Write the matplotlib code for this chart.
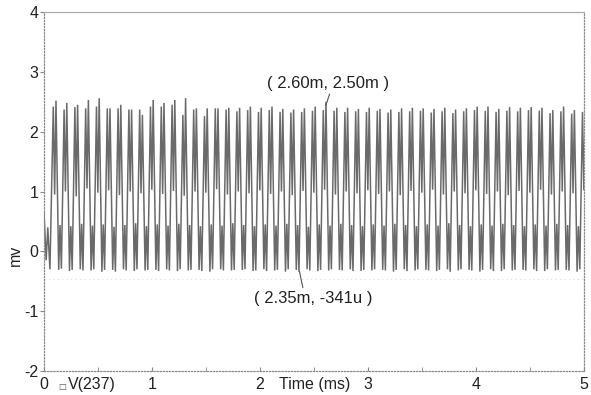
import numpy as np
import matplotlib
matplotlib.use("Agg")
import matplotlib.pyplot as plt

plt.rcParams['font.family'] = ['Liberation Sans', 'DejaVu Sans']

# ---- data (mV vs ms) ----
start_times = [0.00, 0.02, 0.035, 0.055]          # initial transient (ms)
start_values = [0.65, -0.15, 0.40, -0.30]         # mV

first_cycle_peak = 0.086   # ms, time of first upper peak
period = 0.1               # ms

peak_a = [2.42, 2.37, 2.41, 2.39, 2.42, 2.39, 2.39, 2.37, 2.37, 2.42,
          2.42, 2.45, 2.28, 2.37, 2.26, 2.39, 2.37, 2.34, 2.36, 2.33,
          2.36, 2.33, 2.32, 2.33, 2.35, 2.36, 2.35, 2.33, 2.34, 2.33,
          2.35, 2.32, 2.33, 2.34, 2.35, 2.32, 2.34, 2.31, 2.34, 2.36,
          2.35, 2.33, 2.35, 2.34, 2.36, 2.35, 2.31, 2.34, 2.30, 2.33]
peak_b = [2.52, 2.48, 2.45, 2.53, 2.56, 2.39, 2.45, 2.37, 2.28, 2.53,
          2.48, 2.53, 2.56, 2.39, 2.39, 2.39, 2.40, 2.40, 2.42, 2.40,
          2.42, 2.38, 2.37, 2.39, 2.42, 2.50, 2.40, 2.40, 2.38, 2.40,
          2.38, 2.37, 2.39, 2.40, 2.39, 2.38, 2.40, 2.37, 2.39, 2.42,
          2.42, 2.38, 2.41, 2.40, 2.41, 2.40, 2.36, 2.42, 2.36, 2.38]
dip = [0.95, 1.00, 0.92, 1.05, 0.98, 1.02, 0.94, 1.00, 0.97, 1.03,
       0.96, 1.01, 0.93, 1.00, 0.98, 1.04, 0.95, 1.00, 0.97, 1.02,
       0.96, 1.00, 0.94, 1.01, 0.98, 1.03, 0.95, 1.00, 0.97, 1.02,
       0.96, 1.00, 0.94, 1.01, 0.98, 1.03, 0.95, 1.00, 0.97, 1.02,
       0.96, 1.00, 0.94, 1.01, 0.98, 1.03, 0.95, 1.00, 0.97, 1.02]
trough_a = [-0.31, -0.33, -0.30, -0.32, -0.34, -0.31, -0.30, -0.33, -0.32, -0.31,
            -0.30, -0.33, -0.32, -0.31, -0.34, -0.30, -0.32, -0.31, -0.33, -0.30,
            -0.32, -0.34, -0.31, -0.30, -0.33, -0.32, -0.31, -0.30, -0.33, -0.32,
            -0.31, -0.34, -0.30, -0.32, -0.31, -0.33, -0.30, -0.32, -0.31, -0.34,
            -0.30, -0.33, -0.32, -0.31, -0.30, -0.33, -0.32, -0.31, -0.34, -0.30]
bump = [0.44, 0.42, 0.46, 0.43, 0.45, 0.41, 0.44, 0.47, 0.42, 0.45,
        0.43, 0.46, 0.44, 0.42, 0.45, 0.43, 0.47, 0.44, 0.42, 0.45,
        0.43, 0.46, 0.44, 0.41, 0.45, 0.43, 0.46, 0.44, 0.42, 0.45,
        0.43, 0.46, 0.44, 0.42, 0.45, 0.43, 0.47, 0.44, 0.42, 0.45,
        0.43, 0.46, 0.44, 0.42, 0.45, 0.43, 0.46, 0.44, 0.42, 0.45]
trough_b = [-0.29, -0.31, -0.32, -0.30, -0.31, -0.34, -0.32, -0.30, -0.31, -0.33,
            -0.32, -0.30, -0.31, -0.33, -0.30, -0.32, -0.31, -0.30, -0.32, -0.33,
            -0.31, -0.30, -0.34, -0.32, -0.31, -0.30, -0.32, -0.33, -0.31, -0.30,
            -0.32, -0.31, -0.33, -0.30, -0.32, -0.31, -0.34, -0.30, -0.32, -0.31,
            -0.33, -0.30, -0.31, -0.32, -0.33, -0.30, -0.31, -0.32, -0.30, -0.33]

xticks = [0, 1, 2, 3, 4, 5]
yticks = [-2, -1, 0, 1, 2, 3, 4]
cursor_hi_label = "( 2.60m, 2.50m )"
cursor_lo_label = "( 2.35m, -341u )"

# ---- assemble the polyline from the per-cycle vertices ----
phase = [0.0, 0.125, 0.25, 0.5, 0.625, 0.75]   # position of vertices inside a period
t = list(start_times)
v = list(start_values)
for k in range(len(peak_a)):
    t0 = first_cycle_peak + k * period
    vals = [peak_a[k], dip[k], peak_b[k], trough_a[k], bump[k], trough_b[k]]
    for p, val in zip(phase, vals):
        t.append(t0 + p * period)
        v.append(val)

fig = plt.figure(figsize=(5.91, 3.95), dpi=100)
L, R, B, T = 44/591, 584/591, 1 - 371/395, 1 - 12/395
ax = fig.add_axes([L, B, R - L, T - B])

ax.plot(t, v, color='#6a6a6a', lw=1.1, solid_joinstyle='miter')
ax.axhline(-0.47, color='#dcdcdc', lw=0.8, ls=(0, (1, 3)))

ax.set_xlim(0, 5)
ax.set_ylim(-2, 4)
ax.set_xticks(xticks)
ax.set_xticks(np.arange(0.5, 5, 1.0), minor=True)
ax.set_yticks(yticks)
ax.set_xticklabels([str(x) for x in xticks])
ax.set_yticklabels([str(y) for y in yticks])

ax.tick_params(axis='x', which='both', direction='in', length=3, pad=4,
               labelsize=11.5, labelcolor='#222222', color='#888888')
ax.tick_params(axis='y', direction='out', length=3, pad=1,
               labelsize=11.5, labelcolor='#222222', color='#888888')

for side in ['left', 'right', 'bottom']:
    ax.spines[side].set_linestyle((0, (1, 1.5)))
    ax.spines[side].set_color('#8a8a8a')
    ax.spines[side].set_linewidth(0.9)
ax.spines['top'].set_color('#aaaaaa')
ax.spines['top'].set_linewidth(0.9)

# cursor annotations
ax.annotate(cursor_hi_label, xy=(2.61, 2.44), xytext=(2.63, 2.80),
            fontsize=12, color='#222222', ha='center', va='center',
            arrowprops=dict(arrowstyle='-', color='#555555', lw=0.8,
                            shrinkA=0, shrinkB=0, relpos=(0.52, 0.0)))
ax.annotate(cursor_lo_label, xy=(2.365, -0.33), xytext=(2.49, -0.78),
            fontsize=12, color='#222222', ha='center', va='center',
            arrowprops=dict(arrowstyle='-', color='#555555', lw=0.8,
                            shrinkA=0, shrinkB=0, relpos=(0.42, 1.0)))

# labels
fig.text(15/591, 1 - 255/395, 'mv', rotation=90, ha='center', va='center',
         fontsize=11.5, color='#222222')
fig.text(315/591, 1 - 385/395, 'Time (ms)', ha='center', va='center',
         fontsize=11.5, color='#222222')
fig.text(62/591, 1 - 386/395, '\u25a1', ha='center', va='center',
         fontsize=6, color='#555555', family=['DejaVu Sans'])
fig.text(68/591, 1 - 385/395, 'V(237)', ha='left', va='center',
         fontsize=11.5, color='#222222')

fig.savefig('out.png', dpi=100, facecolor='white')
